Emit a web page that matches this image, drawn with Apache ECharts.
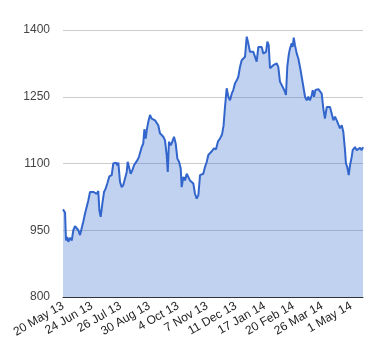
<!DOCTYPE html>
<html>
<head>
<meta charset="utf-8">
<script src="https://cdn.jsdelivr.net/npm/echarts@6/dist/echarts.min.js"></script>
<style>html,body{margin:0;padding:0;background:#fff}#c{width:380px;height:360px}</style>
</head>
<body>
<div id="c"></div>
<script>
// trading-day index (0 = 20 May 13)
var days = [0,1.7,2.5,3.6,4.4,5.8,7.3,8.6,10,11.4,12.8,14.2,15.6,16.9,18.3,19.8,21.1,22.5,23.9,25.3,26.7,28.1,29.4,30.3,31.4,32.8,34.2,35.6,36.9,38.6,
40.6,41.9,43.3,44.2,45.3,46.1,47.5,48.9,50.3,51.7,53.1,53.9,55,56.4,57.8,59.2,60.6,61.9,63.3,64.8,65.6,66.9,67.8,68.9,69.8,71.1,72.5,73.9,75.3,76.7,78.1,79.4,
80.8,82.3,83.6,85,86.4,87.3,88.3,89.8,91.1,92.5,93.9,95.3,96.7,98.1,98.9,100.3,101.7,103.1,104.4,105.8,107.3,108.6,110,111.4,112.8,114.2,115.6,116.9,118.3,119.8,121.1,122.5,
124.2,125.8,127.5,129.2,130.8,132.5,133.8,135,136.4,137.8,139.2,140.6,141.9,143.3,144.8,146.1,147.5,148.9,150.3,151.7,153.1,154.4,155.8,157.3,158.6,160,161.4,162.8,164.2,
165.6,166.9,168.3,169.2,170.3,171.4,172.5,173.9,175.3,176.7,178.1,179.4,180.8,182.3,183.6,185,185.8,186.9,188.1,189.2,190.6,191.4,192.3,193.3,194.8,196.1,197.5,198.9,200.3,201.7,203.1,204.4,205.8,
207.3,208.1,209.2,210.3,211.4,212.8,214.2,215.6,216.9,218.3,219.8,221.1,222.5,223.9,225.3,226.7,228.1,229.4,230.8,232.3,233.6,235,235.8,236.9,238.1,239.2,240.6,241.4,242.5,243.3,244.8,246.1,247.5,248.9,250];
var values = [997,990,927,935,924,933,927,950,959,957,950,939,955,969,987,991,1017,1036,1040,1036,1038,1032,1038,995,980,1010,1036,1044,1055,1071,
1074,1100,1096,1102,1096,1102,1059,1047,1052,1052,1081,1104,1104,1077,1085,1096,1102,1107,1115,1111,1137,1145,1177,1156,1175,1194,1209,1201,1205,1197,1201,1186,
1168,1164,1160,1152,1119,1081,1149,1141,1149,1160,1145,1111,1104,1089,1047,1070,1062,1077,1074,1062,1059,1055,1032,1021,1029,1074,1074,1077,1092,1104,1119,1122,
1128,1134,1132,1150,1156,1165,1185,1227,1269,1250,1242,1257,1265,1280,1287,1295,1317,1332,1336,1340,1385,1370,1351,1347,1351,1347,1329,1362,1360,
1362,1347,1344,1351,1374,1366,1314,1317,1321,1325,1325,1317,1284,1280,1269,1261,1254,1317,1344,1359,1370,1362,1383,1366,1347,1336,1317,1295,1291,1250,1242,1250,1242,
1254,1265,1250,1265,1261,1267,1267,1257,1224,1201,1227,1231,1227,1224,1197,1205,1197,1194,1179,1186,1171,1130,1100,1092,1074,1096,1115,1130,1126,1137,1130,1134,1135,1130,1137];
var tickLabels = ['20 May 13','24 Jun 13','26 Jul 13','30 Aug 13','4 Oct 13','7 Nov 13','11 Dec 13','17 Jan 14','20 Feb 14','26 Mar 14','1 May 14'];
var yTicks = [800, 950, 1100, 1250, 1400];

var chart = echarts.init(document.getElementById('c'), null, {renderer: 'canvas'});
chart.setOption({
  animation: false,
  textStyle: {fontFamily: 'Liberation Sans, Arial, sans-serif'},
  grid: {left: 63, right: 17, top: 30, bottom: 63, containLabel: false},
  xAxis: {
    type: 'value', min: 0, max: 250, interval: 24,
    axisLine: {show: true, onZero: false, lineStyle: {color: '#333', width: 1}},
    axisTick: {show: false},
    splitLine: {show: false},
    axisLabel: {
      rotate: 30, margin: 8, fontSize: 12, color: '#222',
      showMaxLabel: false,
      formatter: function (v) { return (v % 24 === 0 && tickLabels[v / 24]) ? tickLabels[v / 24] : ''; }
    }
  },
  yAxis: {
    type: 'value', min: yTicks[0], max: yTicks[yTicks.length - 1], interval: 150,
    axisLine: {show: false}, axisTick: {show: false},
    splitLine: {lineStyle: {color: '#cccccc', width: 1}},
    axisLabel: {fontSize: 12, color: '#444', margin: 13, formatter: function (v) { return String(v); }}
  },
  series: [{
    type: 'line',
    data: days.map(function (d, i) { return [d, values[i]]; }),
    showSymbol: false, symbol: 'none',
    lineStyle: {color: '#3366cc', width: 2},
    areaStyle: {color: '#3366cc', opacity: 0.3, origin: 'start'}
  }]
});
</script>
</body>
</html>
